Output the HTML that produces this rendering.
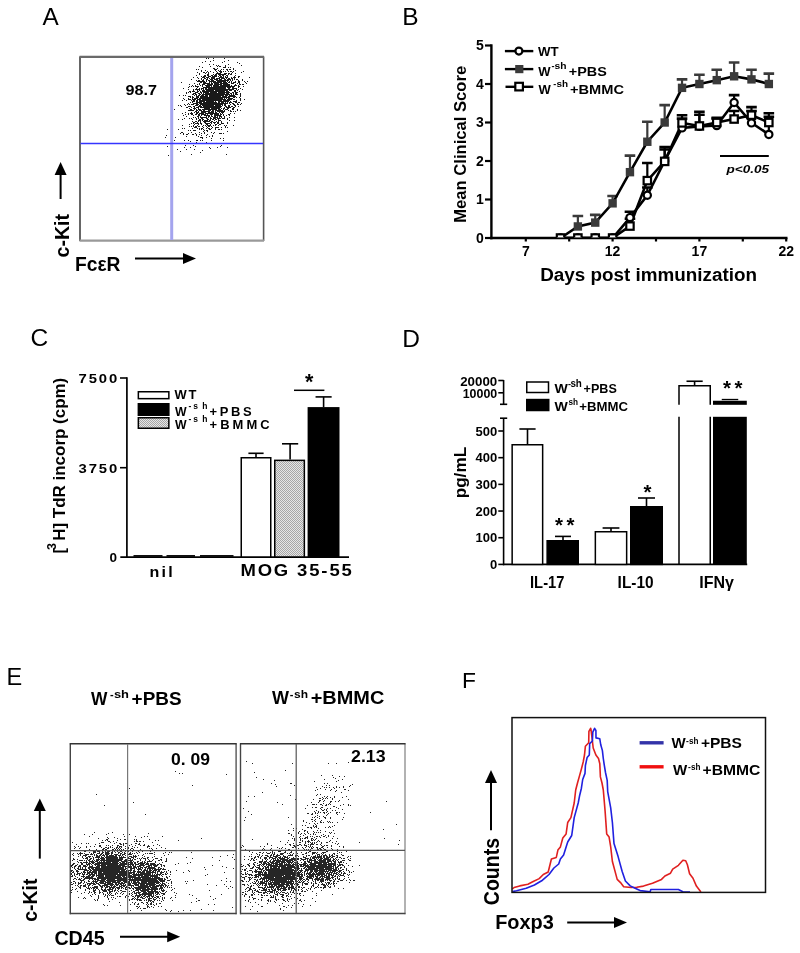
<!DOCTYPE html>
<html><head><meta charset="utf-8"><style>
html,body{margin:0;padding:0;background:#fff;width:800px;height:953px;overflow:hidden}
svg{display:block;will-change:transform}
text{font-family:"Liberation Sans",sans-serif;font-weight:bold}
</style></head><body>
<svg width="800" height="953" viewBox="0 0 800 953">
<rect width="800" height="953" fill="#fff"/>
<text x="42.60" y="25.30" font-size="24.3" style="font-weight:normal" >A</text>
<path d="M230 57.5h1M206 58.5h1m1 0h1m4 0h1m10 0h1M213 60.5h1m14 0h1M205 61.5h1m4 0h1m13 0h1M202 62.5h1m19 0h1m14 0h1M239 63.5h1M209 64.5h1m3 0h1m14 0h1M216 65.5h1m1 0h1m6 0h1m15 0h1M199 66.5h1m10 0h1m6 0h1m1 0h2m4 0h1M202 67.5h1m20 0h3m2 0h1m1 0h1M213 68.5h2m2 0h1m15 0h1M196 69.5h1m1 0h1m15 0h3m4 0h1m1 0h1m2 0h2m1 0h2m2 0h1M201 70.5h1m3 0h1m9 0h1m2 0h1m1 0h1m6 0h1m7 0h1M201 71.5h1m5 0h1m2 0h1m5 0h1m2 0h3m1 0h1m1 0h1m2 0h1m1 0h2m1 0h1m9 0h1M197 72.5h1m5 0h2m1 0h1m1 0h1m4 0h1m3 0h1m2 0h2m10 0h1m8 0h1M199 73.5h1m5 0h1m2 0h1m7 0h5m3 0h3m1 0h2m1 0h1m3 0h1M199 74.5h1m7 0h2m4 0h1m1 0h2m1 0h8m2 0h1m1 0h2M196 75.5h1m7 0h2m1 0h2m2 0h2m1 0h3m2 0h2m1 0h2m2 0h2m7 0h1M201 76.5h1m1 0h3m2 0h3m1 0h5m1 0h1m1 0h2m1 0h1m1 0h1m1 0h1m6 0h1m3 0h2M193 77.5h1m3 0h1m4 0h3m1 0h3m2 0h4m4 0h5m1 0h3m3 0h1m1 0h3m2 0h1m10 0h1M198 78.5h1m2 0h1m2 0h2m1 0h1m1 0h1m1 0h4m1 0h4m1 0h4m1 0h1m1 0h2m1 0h2m1 0h1M191 79.5h1m9 0h1m1 0h1m2 0h2m2 0h3m1 0h4m1 0h3m2 0h2m1 0h4m1 0h1m1 0h1m1 0h2m4 0h1M196 80.5h1m1 0h2m2 0h2m2 0h1m1 0h2m1 0h3m2 0h13m1 0h1m1 0h1m5 0h1m3 0h1M197 81.5h8m1 0h1m2 0h7m1 0h9m1 0h1m1 0h1m1 0h1m3 0h1m2 0h2m4 0h1m2 0h1M181 82.5h1m18 0h2m1 0h3m3 0h1m1 0h1m1 0h9m1 0h4m1 0h2m1 0h1m1 0h3m2 0h2m5 0h1M194 83.5h1m4 0h1m3 0h7m1 0h2m1 0h5m1 0h8m3 0h3m3 0h1m1 0h1m6 0h1M189 84.5h1m7 0h1m1 0h1m2 0h3m2 0h6m1 0h8m1 0h7m5 0h1m3 0h2m1 0h2M192 85.5h1m2 0h1m4 0h1m1 0h1m2 0h7m1 0h6m1 0h10m1 0h1m2 0h3m1 0h1M189 86.5h1m1 0h1m1 0h1m1 0h4m3 0h1m3 0h4m1 0h1m1 0h22m3 0h2m3 0h1M188 87.5h1m8 0h1m5 0h23m1 0h4m1 0h2m4 0h1M183 88.5h1m12 0h1m2 0h1m1 0h3m1 0h2m1 0h18m2 0h2m2 0h5m3 0h1M188 89.5h1m4 0h1m1 0h5m1 0h1m1 0h1m1 0h29m2 0h1m1 0h1m3 0h1M193 90.5h1m3 0h1m1 0h1m2 0h3m1 0h8m1 0h13m1 0h3m2 0h2m1 0h1M189 91.5h2m1 0h3m2 0h2m1 0h1m1 0h23m1 0h3m5 0h2m3 0h1M186 92.5h1m1 0h1m1 0h1m4 0h3m2 0h2m1 0h6m1 0h7m1 0h12m2 0h2m1 0h3M186 93.5h1m6 0h3m2 0h2m1 0h1m1 0h1m1 0h20m1 0h3m1 0h2m1 0h1m1 0h2m3 0h1M192 94.5h2m1 0h2m2 0h2m1 0h28m1 0h1m1 0h1m1 0h3m2 0h1M179 95.5h1m3 0h1m1 0h1m8 0h1m1 0h1m1 0h2m1 0h3m1 0h3m1 0h15m1 0h3m1 0h6m5 0h1M188 96.5h3m1 0h1m3 0h3m1 0h8m1 0h12m1 0h5m1 0h8m4 0h1M190 97.5h1m1 0h2m2 0h3m1 0h30m3 0h2m1 0h1m2 0h1M183 98.5h1m4 0h1m3 0h1m1 0h4m1 0h24m1 0h1m1 0h1m1 0h5m7 0h1M184 99.5h1m3 0h3m1 0h4m1 0h4m1 0h24m1 0h5m1 0h2m5 0h1m3 0h1M182 100.5h1m3 0h1m4 0h1m1 0h2m1 0h2m1 0h23m1 0h7m6 0h1m3 0h1M192 101.5h3m1 0h2m1 0h6m1 0h8m1 0h1m2 0h11m1 0h1m2 0h4M190 102.5h1m1 0h1m3 0h6m1 0h14m1 0h2m1 0h3m1 0h1m1 0h1m1 0h3m3 0h2m1 0h2M188 103.5h1m4 0h5m1 0h29m1 0h1m2 0h2m3 0h1m3 0h1M184 104.5h1m2 0h1m1 0h1m1 0h3m2 0h3m1 0h23m1 0h2m4 0h1m2 0h2m2 0h2m1 0h1M178 105.5h1m1 0h1m4 0h1m9 0h3m1 0h2m1 0h12m1 0h6m1 0h1m1 0h2m2 0h2m4 0h2M181 106.5h1m6 0h3m2 0h2m3 0h4m1 0h19m3 0h2m1 0h2m1 0h2m2 0h1m2 0h1M186 107.5h2m3 0h1m2 0h1m1 0h3m1 0h21m3 0h1m1 0h5m2 0h2M189 108.5h1m3 0h3m2 0h1m5 0h6m1 0h9m1 0h1m1 0h2m2 0h2m3 0h2M174 109.5h1m15 0h2m2 0h1m1 0h1m1 0h3m1 0h15m1 0h3m2 0h1m1 0h3m4 0h2m3 0h1M188 110.5h6m2 0h2m1 0h3m1 0h2m3 0h3m1 0h2m1 0h8m1 0h1m3 0h1m1 0h1m6 0h1m2 0h1M195 111.5h2m1 0h1m2 0h9m1 0h3m1 0h1m1 0h8m5 0h2m1 0h1m1 0h1M185 112.5h1m5 0h1m2 0h1m1 0h3m2 0h5m2 0h6m1 0h2m2 0h1m1 0h3M182 113.5h1m5 0h1m1 0h3m3 0h2m1 0h5m1 0h14m1 0h1m1 0h1m7 0h1m3 0h1M185 114.5h1m2 0h1m2 0h2m2 0h2m1 0h2m1 0h5m1 0h1m2 0h3m1 0h5m1 0h2m1 0h1m4 0h2M183 115.5h1m9 0h1m4 0h2m1 0h1m2 0h6m1 0h1m2 0h7m2 0h1m2 0h1m2 0h1M186 116.5h1m10 0h2m1 0h1m5 0h1m1 0h2m1 0h2m1 0h2m1 0h1m1 0h3m2 0h1M193 117.5h1m1 0h1m2 0h1m1 0h7m1 0h1m1 0h1m2 0h5m1 0h1m1 0h1m2 0h1m4 0h1m4 0h1M184 118.5h1m4 0h1m1 0h1m4 0h1m1 0h1m2 0h2m3 0h2m2 0h2m1 0h3m1 0h4m1 0h3m2 0h1M178 119.5h1m3 0h1m9 0h1m3 0h1m2 0h2m1 0h2m3 0h2m1 0h1m1 0h2m1 0h2m1 0h1m8 0h1M198 120.5h3m1 0h1m1 0h4m1 0h2m3 0h1m3 0h3m8 0h1m4 0h1M192 121.5h1m2 0h2m1 0h1m1 0h1m2 0h7m1 0h2m3 0h1m1 0h1m2 0h1M193 122.5h2m2 0h1m2 0h1m3 0h2m4 0h2m1 0h3m1 0h2m2 0h1m5 0h1M191 123.5h1m1 0h1m1 0h4m1 0h2m3 0h5m1 0h1m2 0h1m2 0h2m2 0h3m3 0h1M189 124.5h1m4 0h1m3 0h1m2 0h1m4 0h2m2 0h1m4 0h2m2 0h2M182 125.5h1m10 0h1m3 0h1m5 0h1m1 0h1m1 0h4m2 0h1m1 0h1m2 0h1m5 0h1m1 0h1m6 0h1M189 126.5h1m1 0h1m1 0h1m1 0h2m1 0h2m2 0h1m3 0h1m1 0h2m1 0h1m13 0h1M194 127.5h3m6 0h1m3 0h1m4 0h1m2 0h4m2 0h1m3 0h1m1 0h1M182 128.5h1m1 0h1m7 0h1m4 0h1m1 0h1m1 0h2m3 0h1m1 0h2m1 0h1m3 0h1M167 129.5h1m10 0h1m20 0h1m1 0h1m1 0h1m5 0h2m4 0h1m2 0h2m1 0h1M188 130.5h1m1 0h1m2 0h3m8 0h1m1 0h2M203 131.5h1m3 0h1m19 0h1M181 132.5h2m8 0h1m7 0h1m4 0h1m6 0h1m2 0h1M180 133.5h1m2 0h1m4 0h1m6 0h1m5 0h1m2 0h1m8 0h1m5 0h3m1 0h1M183 134.5h1m2 0h2m4 0h2m2 0h1m2 0h1m7 0h1M166 135.5h1m29 0h1m4 0h1m4 0h1m5 0h1M186 136.5h1m11 0h1m10 0h1m2 0h1M165 137.5h1m9 0h1m24 0h3m3 0h1M202 138.5h1m8 0h1m8 0h1m2 0h1M174 140.5h1m9 0h1m3 0h1m7 0h2m2 0h1m1 0h1m8 0h1m11 0h1M190 141.5h1M196 142.5h1m9 0h1M192 143.5h1M185 145.5h1m7 0h1m27 0h1M167 146.5h1m27 0h1m24 0h1M184 147.5h1m5 0h1m18 0h1m7 0h1m9 0h1M210 148.5h1M177 149.5h1m8 0h1m7 0h1M202 150.5h1M180 151.5h1M200 152.5h1M171 154.5h1m19 0h1m34 0h1M168 155.5h1" stroke="#000" stroke-width="1" fill="none" stroke-opacity="0.9" shape-rendering="crispEdges"/>
<line x1="80.00" y1="56.50" x2="80.00" y2="241.00" stroke="#555" stroke-width="1.8" />
<line x1="263.60" y1="56.50" x2="263.60" y2="241.00" stroke="#555" stroke-width="1.6" />
<line x1="79.50" y1="57.00" x2="264.00" y2="57.00" stroke="#6a6a6a" stroke-width="2.0" />
<line x1="79.50" y1="55.50" x2="264.00" y2="55.50" stroke="#d8d8d8" stroke-width="1" />
<line x1="79.50" y1="240.60" x2="264.00" y2="240.60" stroke="#999" stroke-width="2.4" />
<line x1="171.70" y1="58.00" x2="171.70" y2="240.00" stroke="#a4a4ee" stroke-width="3" />
<line x1="80.50" y1="143.50" x2="263.00" y2="143.50" stroke="#3535ff" stroke-width="1.7" />
<text x="125.40" y="95.00" font-size="15" textLength="31.5" lengthAdjust="spacingAndGlyphs" >98.7</text>
<text transform="translate(69.40,257.50) rotate(-90)" x="0" y="0" font-size="20" textLength="43.5" lengthAdjust="spacingAndGlyphs" >c-Kit</text>
<line x1="60.60" y1="199.00" x2="60.60" y2="174.00" stroke="#000" stroke-width="2" />
<polygon points="60.60,162.00 54.60,175.00 66.60,175.00" fill="#000"/>
<text x="75.00" y="271.00" font-size="20" textLength="45.5" lengthAdjust="spacingAndGlyphs" >FcεR</text>
<line x1="135.00" y1="258.60" x2="184.00" y2="258.60" stroke="#000" stroke-width="2" />
<polygon points="196.00,258.60 183.00,253.10 183.00,264.10" fill="#000"/>
<text x="402.30" y="25.20" font-size="24.5" style="font-weight:normal" >B</text>
<line x1="491.40" y1="44.30" x2="491.40" y2="239.30" stroke="#000" stroke-width="2.4" />
<line x1="490.20" y1="238.00" x2="787.50" y2="238.00" stroke="#000" stroke-width="2.5" />
<line x1="485.00" y1="238.00" x2="491.40" y2="238.00" stroke="#000" stroke-width="2.2" />
<text x="483.90" y="242.90" font-size="14" text-anchor="end" >0</text>
<line x1="485.00" y1="199.50" x2="491.40" y2="199.50" stroke="#000" stroke-width="2.2" />
<text x="483.90" y="204.40" font-size="14" text-anchor="end" >1</text>
<line x1="485.00" y1="161.00" x2="491.40" y2="161.00" stroke="#000" stroke-width="2.2" />
<text x="483.90" y="165.90" font-size="14" text-anchor="end" >2</text>
<line x1="485.00" y1="122.50" x2="491.40" y2="122.50" stroke="#000" stroke-width="2.2" />
<text x="483.90" y="127.40" font-size="14" text-anchor="end" >3</text>
<line x1="485.00" y1="84.00" x2="491.40" y2="84.00" stroke="#000" stroke-width="2.2" />
<text x="483.90" y="88.90" font-size="14" text-anchor="end" >4</text>
<line x1="485.00" y1="45.50" x2="491.40" y2="45.50" stroke="#000" stroke-width="2.2" />
<text x="483.90" y="50.40" font-size="14" text-anchor="end" >5</text>
<line x1="525.80" y1="238.00" x2="525.80" y2="241.50" stroke="#000" stroke-width="2.2" />
<line x1="569.20" y1="238.00" x2="569.20" y2="241.50" stroke="#000" stroke-width="2.2" />
<line x1="612.60" y1="238.00" x2="612.60" y2="241.50" stroke="#000" stroke-width="2.2" />
<line x1="656.00" y1="238.00" x2="656.00" y2="241.50" stroke="#000" stroke-width="2.2" />
<line x1="699.40" y1="238.00" x2="699.40" y2="241.50" stroke="#000" stroke-width="2.2" />
<line x1="742.80" y1="238.00" x2="742.80" y2="241.50" stroke="#000" stroke-width="2.2" />
<line x1="786.20" y1="238.00" x2="786.20" y2="241.50" stroke="#000" stroke-width="2.2" />
<text x="525.80" y="256.30" font-size="14" text-anchor="middle" >7</text>
<text x="612.60" y="256.30" font-size="14" text-anchor="middle" >12</text>
<text x="699.40" y="256.30" font-size="14" text-anchor="middle" >17</text>
<text x="786.20" y="256.30" font-size="14" text-anchor="middle" >22</text>
<text x="540.20" y="281.40" font-size="18.8" textLength="216.8" lengthAdjust="spacingAndGlyphs" >Days post immunization</text>
<text transform="translate(465.60,144.30) rotate(-90)" x="0" y="0" font-size="16.7" textLength="157" lengthAdjust="spacingAndGlyphs" text-anchor="middle" >Mean Clinical Score</text>
<defs><clipPath id="bclip"><rect x="492.5" y="30" width="300" height="207.2"/></clipPath></defs><g clip-path="url(#bclip)">
<line x1="577.88" y1="226.45" x2="577.88" y2="216.06" stroke="#3a3a3a" stroke-width="2.2" />
<line x1="572.58" y1="216.06" x2="583.18" y2="216.06" stroke="#3a3a3a" stroke-width="2.6" />
<line x1="595.24" y1="222.60" x2="595.24" y2="214.90" stroke="#3a3a3a" stroke-width="2.2" />
<line x1="589.94" y1="214.90" x2="600.54" y2="214.90" stroke="#3a3a3a" stroke-width="2.6" />
<line x1="612.60" y1="203.35" x2="612.60" y2="196.03" stroke="#3a3a3a" stroke-width="2.2" />
<line x1="607.30" y1="196.03" x2="617.90" y2="196.03" stroke="#3a3a3a" stroke-width="2.6" />
<line x1="629.96" y1="217.59" x2="629.96" y2="211.82" stroke="#000" stroke-width="2.2" />
<line x1="624.66" y1="211.82" x2="635.26" y2="211.82" stroke="#000" stroke-width="2.6" />
<line x1="629.96" y1="226.06" x2="629.96" y2="218.75" stroke="#000" stroke-width="2.2" />
<line x1="624.66" y1="218.75" x2="635.26" y2="218.75" stroke="#000" stroke-width="2.6" />
<line x1="629.96" y1="172.17" x2="629.96" y2="155.61" stroke="#3a3a3a" stroke-width="2.2" />
<line x1="624.66" y1="155.61" x2="635.26" y2="155.61" stroke="#3a3a3a" stroke-width="2.6" />
<line x1="647.32" y1="195.26" x2="647.32" y2="187.56" stroke="#000" stroke-width="2.2" />
<line x1="642.02" y1="187.56" x2="652.62" y2="187.56" stroke="#000" stroke-width="2.6" />
<line x1="647.32" y1="180.63" x2="647.32" y2="162.93" stroke="#000" stroke-width="2.2" />
<line x1="642.02" y1="162.93" x2="652.62" y2="162.93" stroke="#000" stroke-width="2.6" />
<line x1="647.32" y1="141.75" x2="647.32" y2="121.73" stroke="#3a3a3a" stroke-width="2.2" />
<line x1="642.02" y1="121.73" x2="652.62" y2="121.73" stroke="#3a3a3a" stroke-width="2.6" />
<line x1="664.68" y1="161.00" x2="664.68" y2="149.45" stroke="#000" stroke-width="2.2" />
<line x1="659.38" y1="149.45" x2="669.98" y2="149.45" stroke="#000" stroke-width="2.6" />
<line x1="664.68" y1="161.38" x2="664.68" y2="147.14" stroke="#000" stroke-width="2.2" />
<line x1="659.38" y1="147.14" x2="669.98" y2="147.14" stroke="#000" stroke-width="2.6" />
<line x1="664.68" y1="122.50" x2="664.68" y2="105.17" stroke="#3a3a3a" stroke-width="2.2" />
<line x1="659.38" y1="105.17" x2="669.98" y2="105.17" stroke="#3a3a3a" stroke-width="2.6" />
<line x1="682.04" y1="127.89" x2="682.04" y2="118.65" stroke="#000" stroke-width="2.2" />
<line x1="676.74" y1="118.65" x2="687.34" y2="118.65" stroke="#000" stroke-width="2.6" />
<line x1="682.04" y1="122.88" x2="682.04" y2="115.19" stroke="#000" stroke-width="2.2" />
<line x1="676.74" y1="115.19" x2="687.34" y2="115.19" stroke="#000" stroke-width="2.6" />
<line x1="682.04" y1="87.85" x2="682.04" y2="79.38" stroke="#3a3a3a" stroke-width="2.2" />
<line x1="676.74" y1="79.38" x2="687.34" y2="79.38" stroke="#3a3a3a" stroke-width="2.6" />
<line x1="699.40" y1="126.35" x2="699.40" y2="114.80" stroke="#000" stroke-width="2.2" />
<line x1="694.10" y1="114.80" x2="704.70" y2="114.80" stroke="#000" stroke-width="2.6" />
<line x1="699.40" y1="125.96" x2="699.40" y2="111.72" stroke="#000" stroke-width="2.2" />
<line x1="694.10" y1="111.72" x2="704.70" y2="111.72" stroke="#000" stroke-width="2.6" />
<line x1="699.40" y1="84.00" x2="699.40" y2="74.76" stroke="#3a3a3a" stroke-width="2.2" />
<line x1="694.10" y1="74.76" x2="704.70" y2="74.76" stroke="#3a3a3a" stroke-width="2.6" />
<line x1="716.76" y1="125.58" x2="716.76" y2="118.65" stroke="#000" stroke-width="2.2" />
<line x1="711.46" y1="118.65" x2="722.06" y2="118.65" stroke="#000" stroke-width="2.6" />
<line x1="716.76" y1="122.50" x2="716.76" y2="117.88" stroke="#000" stroke-width="2.2" />
<line x1="711.46" y1="117.88" x2="722.06" y2="117.88" stroke="#000" stroke-width="2.6" />
<line x1="716.76" y1="80.15" x2="716.76" y2="69.75" stroke="#3a3a3a" stroke-width="2.2" />
<line x1="711.46" y1="69.75" x2="722.06" y2="69.75" stroke="#3a3a3a" stroke-width="2.6" />
<line x1="734.12" y1="102.48" x2="734.12" y2="95.16" stroke="#000" stroke-width="2.2" />
<line x1="728.82" y1="95.16" x2="739.42" y2="95.16" stroke="#000" stroke-width="2.6" />
<line x1="734.12" y1="119.04" x2="734.12" y2="110.95" stroke="#000" stroke-width="2.2" />
<line x1="728.82" y1="110.95" x2="739.42" y2="110.95" stroke="#000" stroke-width="2.6" />
<line x1="734.12" y1="76.30" x2="734.12" y2="62.44" stroke="#3a3a3a" stroke-width="2.2" />
<line x1="728.82" y1="62.44" x2="739.42" y2="62.44" stroke="#3a3a3a" stroke-width="2.6" />
<line x1="751.48" y1="122.88" x2="751.48" y2="110.95" stroke="#000" stroke-width="2.2" />
<line x1="746.18" y1="110.95" x2="756.78" y2="110.95" stroke="#000" stroke-width="2.6" />
<line x1="751.48" y1="115.19" x2="751.48" y2="107.10" stroke="#000" stroke-width="2.2" />
<line x1="746.18" y1="107.10" x2="756.78" y2="107.10" stroke="#000" stroke-width="2.6" />
<line x1="751.48" y1="79.38" x2="751.48" y2="69.75" stroke="#3a3a3a" stroke-width="2.2" />
<line x1="746.18" y1="69.75" x2="756.78" y2="69.75" stroke="#3a3a3a" stroke-width="2.6" />
<line x1="768.84" y1="134.44" x2="768.84" y2="116.73" stroke="#000" stroke-width="2.2" />
<line x1="763.54" y1="116.73" x2="774.14" y2="116.73" stroke="#000" stroke-width="2.6" />
<line x1="768.84" y1="122.50" x2="768.84" y2="113.26" stroke="#000" stroke-width="2.2" />
<line x1="763.54" y1="113.26" x2="774.14" y2="113.26" stroke="#000" stroke-width="2.6" />
<line x1="768.84" y1="84.00" x2="768.84" y2="73.61" stroke="#3a3a3a" stroke-width="2.2" />
<line x1="763.54" y1="73.61" x2="774.14" y2="73.61" stroke="#3a3a3a" stroke-width="2.6" />
<polyline fill="none" stroke="#000" stroke-width="2.6" points="560.52,238.00 577.88,238.00 595.24,238.00 612.60,238.00 629.96,217.59 647.32,195.26 664.68,161.00 682.04,127.89 699.40,126.35 716.76,125.58 734.12,102.48 751.48,122.88 768.84,134.44"/>
<polyline fill="none" stroke="#000" stroke-width="2.6" points="560.52,238.00 577.88,238.00 595.24,238.00 612.60,238.00 629.96,226.06 647.32,180.63 664.68,161.38 682.04,122.88 699.40,125.96 716.76,122.50 734.12,119.04 751.48,115.19 768.84,122.50"/>
<polyline fill="none" stroke="#000" stroke-width="2.6" points="560.52,238.00 577.88,226.45 595.24,222.60 612.60,203.35 629.96,172.17 647.32,141.75 664.68,122.50 682.04,87.85 699.40,84.00 716.76,80.15 734.12,76.30 751.48,79.38 768.84,84.00"/>
<circle cx="560.52" cy="238.00" r="3.6" fill="#fff" stroke="#000" stroke-width="2.2"/>
<circle cx="577.88" cy="238.00" r="3.6" fill="#fff" stroke="#000" stroke-width="2.2"/>
<circle cx="595.24" cy="238.00" r="3.6" fill="#fff" stroke="#000" stroke-width="2.2"/>
<circle cx="612.60" cy="238.00" r="3.6" fill="#fff" stroke="#000" stroke-width="2.2"/>
<circle cx="629.96" cy="217.59" r="3.6" fill="#fff" stroke="#000" stroke-width="2.2"/>
<circle cx="647.32" cy="195.26" r="3.6" fill="#fff" stroke="#000" stroke-width="2.2"/>
<circle cx="664.68" cy="161.00" r="3.6" fill="#fff" stroke="#000" stroke-width="2.2"/>
<circle cx="682.04" cy="127.89" r="3.6" fill="#fff" stroke="#000" stroke-width="2.2"/>
<circle cx="699.40" cy="126.35" r="3.6" fill="#fff" stroke="#000" stroke-width="2.2"/>
<circle cx="716.76" cy="125.58" r="3.6" fill="#fff" stroke="#000" stroke-width="2.2"/>
<circle cx="734.12" cy="102.48" r="3.6" fill="#fff" stroke="#000" stroke-width="2.2"/>
<circle cx="751.48" cy="122.88" r="3.6" fill="#fff" stroke="#000" stroke-width="2.2"/>
<circle cx="768.84" cy="134.44" r="3.6" fill="#fff" stroke="#000" stroke-width="2.2"/>
<rect x="556.82" y="234.30" width="7.40" height="7.40" fill="#fff" stroke="#000" stroke-width="2.2" />
<rect x="574.18" y="234.30" width="7.40" height="7.40" fill="#fff" stroke="#000" stroke-width="2.2" />
<rect x="591.54" y="234.30" width="7.40" height="7.40" fill="#fff" stroke="#000" stroke-width="2.2" />
<rect x="608.90" y="234.30" width="7.40" height="7.40" fill="#fff" stroke="#000" stroke-width="2.2" />
<rect x="626.26" y="222.37" width="7.40" height="7.40" fill="#fff" stroke="#000" stroke-width="2.2" />
<rect x="643.62" y="176.94" width="7.40" height="7.40" fill="#fff" stroke="#000" stroke-width="2.2" />
<rect x="660.98" y="157.69" width="7.40" height="7.40" fill="#fff" stroke="#000" stroke-width="2.2" />
<rect x="678.34" y="119.18" width="7.40" height="7.40" fill="#fff" stroke="#000" stroke-width="2.2" />
<rect x="695.70" y="122.26" width="7.40" height="7.40" fill="#fff" stroke="#000" stroke-width="2.2" />
<rect x="713.06" y="118.80" width="7.40" height="7.40" fill="#fff" stroke="#000" stroke-width="2.2" />
<rect x="730.42" y="115.34" width="7.40" height="7.40" fill="#fff" stroke="#000" stroke-width="2.2" />
<rect x="747.78" y="111.48" width="7.40" height="7.40" fill="#fff" stroke="#000" stroke-width="2.2" />
<rect x="765.14" y="118.80" width="7.40" height="7.40" fill="#fff" stroke="#000" stroke-width="2.2" />
<rect x="573.68" y="222.25" width="8.40" height="8.40" fill="#3a3a3a" />
<rect x="591.04" y="218.40" width="8.40" height="8.40" fill="#3a3a3a" />
<rect x="608.40" y="199.15" width="8.40" height="8.40" fill="#3a3a3a" />
<rect x="625.76" y="167.97" width="8.40" height="8.40" fill="#3a3a3a" />
<rect x="643.12" y="137.55" width="8.40" height="8.40" fill="#3a3a3a" />
<rect x="660.48" y="118.30" width="8.40" height="8.40" fill="#3a3a3a" />
<rect x="677.84" y="83.65" width="8.40" height="8.40" fill="#3a3a3a" />
<rect x="695.20" y="79.80" width="8.40" height="8.40" fill="#3a3a3a" />
<rect x="712.56" y="75.95" width="8.40" height="8.40" fill="#3a3a3a" />
<rect x="729.92" y="72.10" width="8.40" height="8.40" fill="#3a3a3a" />
<rect x="747.28" y="75.18" width="8.40" height="8.40" fill="#3a3a3a" />
<rect x="764.64" y="79.80" width="8.40" height="8.40" fill="#3a3a3a" />
</g>
<line x1="504.90" y1="51.10" x2="533.30" y2="51.10" stroke="#000" stroke-width="2.4" />
<circle cx="518.9" cy="51.1" r="3.5" fill="#fff" stroke="#000" stroke-width="2.2"/>
<text x="538.00" y="55.60" font-size="13" textLength="20.6" lengthAdjust="spacingAndGlyphs" >WT</text>
<line x1="504.90" y1="69.10" x2="533.30" y2="69.10" stroke="#000" stroke-width="2.4" />
<rect x="515.20" y="65.00" width="8.20" height="8.20" fill="#3a3a3a" />
<line x1="505.50" y1="86.80" x2="533.30" y2="86.80" stroke="#000" stroke-width="2.4" />
<rect x="515.30" y="82.80" width="7.60" height="7.60" fill="#fff" stroke="#000" stroke-width="2.2" />
<text x="538.30" y="75.80" font-size="13" >W</text>
<text x="551.40" y="69.20" font-size="9" >-</text>
<text x="554.60" y="69.20" font-size="9" textLength="12" lengthAdjust="spacingAndGlyphs" >sh</text>
<text x="568.80" y="75.80" font-size="13" textLength="38" lengthAdjust="spacingAndGlyphs" >+PBS</text>
<text x="538.50" y="93.60" font-size="13" >W</text>
<text x="553.20" y="87.00" font-size="9" >-</text>
<text x="556.40" y="87.00" font-size="9" textLength="11.6" lengthAdjust="spacingAndGlyphs" >sh</text>
<text x="570.00" y="93.60" font-size="13" textLength="54" lengthAdjust="spacingAndGlyphs" >+BMMC</text>
<line x1="720.00" y1="156.00" x2="768.80" y2="156.00" stroke="#000" stroke-width="2.2" />
<text x="726.50" y="173.20" font-size="11.8" style="font-style:italic" textLength="42.5" lengthAdjust="spacingAndGlyphs" >p&lt;0.05</text>
<text x="30.60" y="346.40" font-size="24.5" style="font-weight:normal" >C</text>
<defs><pattern id="hp" width="2" height="2" patternUnits="userSpaceOnUse"><rect width="2" height="2" fill="#e6e6e6"/><rect x="0" y="0" width="1" height="1" fill="#a6a6a6"/><rect x="1" y="1" width="1" height="1" fill="#a6a6a6"/></pattern></defs>
<line x1="126.90" y1="377.30" x2="126.90" y2="557.60" stroke="#000" stroke-width="1.7" />
<line x1="120.30" y1="557.10" x2="349.00" y2="557.10" stroke="#000" stroke-width="1.7" />
<line x1="120.00" y1="378.00" x2="126.90" y2="378.00" stroke="#000" stroke-width="1.6" />
<text transform="translate(78.60,382.90) scale(1.1,1)" x="0.00 9.19 18.39 27.58" y="0" font-size="13.5">7500</text>
<line x1="120.00" y1="467.70" x2="126.90" y2="467.70" stroke="#000" stroke-width="1.6" />
<text transform="translate(78.60,472.60) scale(1.1,1)" x="0.00 9.19 18.39 27.58" y="0" font-size="13.5">3750</text>
<text x="117.00" y="562.10" font-size="13.5" text-anchor="end" >0</text>
<line x1="133.50" y1="556.00" x2="162.50" y2="556.00" stroke="#111" stroke-width="2.0" />
<line x1="166.50" y1="556.00" x2="195.00" y2="556.00" stroke="#111" stroke-width="2.0" />
<line x1="200.00" y1="556.00" x2="233.50" y2="556.00" stroke="#111" stroke-width="2.0" />
<line x1="256.00" y1="457.00" x2="256.00" y2="453.30" stroke="#000" stroke-width="1.6" />
<line x1="248.40" y1="453.30" x2="263.60" y2="453.30" stroke="#000" stroke-width="1.6" />
<line x1="290.10" y1="459.60" x2="290.10" y2="443.80" stroke="#000" stroke-width="1.6" />
<line x1="282.00" y1="443.80" x2="298.20" y2="443.80" stroke="#000" stroke-width="1.6" />
<line x1="323.60" y1="407.10" x2="323.60" y2="396.90" stroke="#000" stroke-width="1.6" />
<line x1="315.55" y1="396.90" x2="331.65" y2="396.90" stroke="#000" stroke-width="1.6" />
<rect x="241.25" y="457.75" width="29.50" height="99.25" fill="#fff" stroke="#000" stroke-width="1.5" />
<rect x="274.75" y="460.35" width="29.60" height="96.65" fill="url(#hp)" stroke="#000" stroke-width="1.5" />
<rect x="308.35" y="407.85" width="30.40" height="149.15" fill="#000" stroke="#000" stroke-width="1.5" />
<line x1="294.00" y1="390.30" x2="324.40" y2="390.30" stroke="#000" stroke-width="1.5" />
<text x="309.20" y="388.80" font-size="21.5" text-anchor="middle" >*</text>
<text transform="translate(149.60,576.90) scale(1.05,1)" x="0.00 11.37 17.65" y="0" font-size="15.3">nil</text>
<text transform="translate(240.40,576.40) scale(1.1,1)" x="0.00 15.68 30.44 45.19 51.55 62.58 73.61 80.90 91.93" y="0" font-size="16.8">MOG 35-55</text>
<rect x="138.35" y="391.75" width="30.50" height="6.90" fill="#fff" stroke="#000" stroke-width="1.5" />
<rect x="137.60" y="403.00" width="32.00" height="13.00" fill="#000" />
<rect x="138.35" y="417.75" width="30.50" height="10.50" fill="url(#hp)" stroke="#000" stroke-width="1.5" />
<text transform="translate(174.50,399.00) scale(1.08,1)" x="0.00 13.04" y="0" font-size="12">WT</text>
<text x="175.00" y="415.60" font-size="12" textLength="11.6" lengthAdjust="spacingAndGlyphs" >W</text>
<text x="188.60" y="409.40" font-size="8.5" >-</text>
<text transform="translate(193.20,409.40) scale(1.0,1)" x="0.00 9.01" y="0" font-size="8.5">sh</text>
<text transform="translate(209.50,415.60) scale(1.08,1)" x="0.00 9.47 19.94 31.07" y="0" font-size="12">+PBS</text>
<text x="175.00" y="428.60" font-size="12" textLength="11.6" lengthAdjust="spacingAndGlyphs" >W</text>
<text x="188.60" y="422.40" font-size="8.5" >-</text>
<text transform="translate(193.20,422.40) scale(1.0,1)" x="0.00 9.01" y="0" font-size="8.5">sh</text>
<text transform="translate(209.50,428.60) scale(1.08,1)" x="0.00 9.86 21.38 34.23 47.07" y="0" font-size="12">+BMMC</text>
<g transform="translate(64.7,553.5) rotate(-90)"><text x="0" y="0" font-size="16.5">[</text><text x="3.6" y="-8.6" font-size="12.5">3</text><text x="12.75" y="0" font-size="16.5" textLength="163" lengthAdjust="spacingAndGlyphs">H] TdR incorp (cpm)</text></g>
<text x="402.30" y="346.50" font-size="24.5" style="font-weight:normal" >D</text>
<line x1="503.60" y1="380.00" x2="503.60" y2="404.50" stroke="#000" stroke-width="1.6" />
<line x1="500.00" y1="404.30" x2="507.20" y2="404.30" stroke="#000" stroke-width="1.6" />
<line x1="503.60" y1="418.00" x2="503.60" y2="565.20" stroke="#000" stroke-width="1.6" />
<line x1="500.00" y1="418.20" x2="507.20" y2="418.20" stroke="#000" stroke-width="1.6" />
<line x1="503.00" y1="564.40" x2="747.20" y2="564.40" stroke="#000" stroke-width="1.6" />
<line x1="498.30" y1="380.50" x2="503.60" y2="380.50" stroke="#000" stroke-width="1.6" />
<text x="497.20" y="385.90" font-size="13" textLength="37" lengthAdjust="spacingAndGlyphs" text-anchor="end" >20000</text>
<line x1="498.30" y1="392.80" x2="503.60" y2="392.80" stroke="#000" stroke-width="1.6" />
<text x="497.20" y="397.70" font-size="13" textLength="34.5" lengthAdjust="spacingAndGlyphs" text-anchor="end" >10000</text>
<line x1="498.30" y1="564.40" x2="503.60" y2="564.40" stroke="#000" stroke-width="1.6" />
<text x="497.20" y="569.10" font-size="13" text-anchor="end" >0</text>
<line x1="498.30" y1="537.72" x2="503.60" y2="537.72" stroke="#000" stroke-width="1.6" />
<text x="497.20" y="542.42" font-size="13" text-anchor="end" >100</text>
<line x1="498.30" y1="511.04" x2="503.60" y2="511.04" stroke="#000" stroke-width="1.6" />
<text x="497.20" y="515.74" font-size="13" text-anchor="end" >200</text>
<line x1="498.30" y1="484.36" x2="503.60" y2="484.36" stroke="#000" stroke-width="1.6" />
<text x="497.20" y="489.06" font-size="13" text-anchor="end" >300</text>
<line x1="498.30" y1="457.68" x2="503.60" y2="457.68" stroke="#000" stroke-width="1.6" />
<text x="497.20" y="462.38" font-size="13" text-anchor="end" >400</text>
<line x1="498.30" y1="431.00" x2="503.60" y2="431.00" stroke="#000" stroke-width="1.6" />
<text x="497.20" y="435.70" font-size="13" text-anchor="end" >500</text>
<line x1="527.50" y1="444.00" x2="527.50" y2="429.00" stroke="#000" stroke-width="1.6" />
<line x1="519.40" y1="429.00" x2="535.60" y2="429.00" stroke="#000" stroke-width="1.6" />
<rect x="512.15" y="444.75" width="30.50" height="119.65" fill="#fff" stroke="#000" stroke-width="1.5" />
<line x1="563.00" y1="540.00" x2="563.00" y2="536.40" stroke="#000" stroke-width="1.6" />
<line x1="555.00" y1="536.40" x2="571.00" y2="536.40" stroke="#000" stroke-width="1.6" />
<rect x="547.15" y="540.75" width="31.10" height="23.65" fill="#000" stroke="#000" stroke-width="1.5" />
<line x1="611.00" y1="531.00" x2="611.00" y2="528.00" stroke="#000" stroke-width="1.6" />
<line x1="602.60" y1="528.00" x2="619.40" y2="528.00" stroke="#000" stroke-width="1.6" />
<rect x="595.35" y="531.75" width="31.30" height="32.65" fill="#fff" stroke="#000" stroke-width="1.5" />
<line x1="646.50" y1="506.00" x2="646.50" y2="498.00" stroke="#000" stroke-width="1.6" />
<line x1="638.00" y1="498.00" x2="655.00" y2="498.00" stroke="#000" stroke-width="1.6" />
<rect x="630.75" y="506.75" width="31.50" height="57.65" fill="#000" stroke="#000" stroke-width="1.5" />
<line x1="694.60" y1="385.00" x2="694.60" y2="381.25" stroke="#000" stroke-width="1.6" />
<line x1="686.50" y1="381.25" x2="702.70" y2="381.25" stroke="#000" stroke-width="1.6" />
<path d="M679 404.8V385.75H710.25V404.8" fill="#fff" stroke="#000" stroke-width="1.5"/>
<rect x="713.00" y="400.75" width="33.80" height="4.05" fill="#000" />
<line x1="721.75" y1="399.50" x2="738.25" y2="399.50" stroke="#000" stroke-width="1.3" />
<path d="M679 416.8V564.4M710.25 416.8V564.4" stroke="#000" stroke-width="1.5"/>
<rect x="713.00" y="416.80" width="33.80" height="147.60" fill="#000" />
<text x="559.00" y="532.00" font-size="20.5" text-anchor="middle" >*</text>
<text x="570.40" y="532.00" font-size="20.5" text-anchor="middle" >*</text>
<text x="647.60" y="499.10" font-size="20.5" text-anchor="middle" >*</text>
<text x="727.10" y="395.40" font-size="20.5" text-anchor="middle" >*</text>
<text x="738.60" y="395.40" font-size="20.5" text-anchor="middle" >*</text>
<rect x="526.75" y="382.00" width="21.75" height="10.50" fill="#fff" stroke="#000" stroke-width="1.5" />
<rect x="526.00" y="398.80" width="23.50" height="12.45" fill="#000" />
<text x="554.50" y="393.25" font-size="13" textLength="13.3" lengthAdjust="spacingAndGlyphs" >W</text>
<text x="568.00" y="387.20" font-size="9" >-</text>
<text x="570.40" y="387.20" font-size="10" textLength="11.5" lengthAdjust="spacingAndGlyphs" >sh</text>
<text x="583.60" y="393.25" font-size="13" textLength="33.2" lengthAdjust="spacingAndGlyphs" >+PBS</text>
<text x="554.50" y="410.80" font-size="13" textLength="13.3" lengthAdjust="spacingAndGlyphs" >W</text>
<text x="568.50" y="404.90" font-size="9" textLength="9.6" lengthAdjust="spacingAndGlyphs" >sh</text>
<text x="579.30" y="410.80" font-size="13" textLength="48.7" lengthAdjust="spacingAndGlyphs" >+BMMC</text>
<text transform="translate(466.00,472.60) rotate(-90)" x="0" y="0" font-size="16.5" textLength="51.5" lengthAdjust="spacingAndGlyphs" text-anchor="middle" >pg/mL</text>
<text x="530.00" y="588.40" font-size="16.5" textLength="34.5" lengthAdjust="spacingAndGlyphs" >IL-17</text>
<text x="617.60" y="588.40" font-size="16.5" textLength="36" lengthAdjust="spacingAndGlyphs" >IL-10</text>
<text x="699.30" y="588.40" font-size="16.5" textLength="34.7" lengthAdjust="spacingAndGlyphs" >IFNγ</text>
<text x="6.40" y="685.00" font-size="23.5" style="font-weight:normal" >E</text>
<text x="90.90" y="704.60" font-size="18" textLength="16.4" lengthAdjust="spacingAndGlyphs" >W</text>
<text x="109.90" y="698.30" font-size="11" >-</text>
<text x="113.90" y="698.30" font-size="11" textLength="15.1" lengthAdjust="spacingAndGlyphs" >sh</text>
<text x="131.60" y="704.60" font-size="18" textLength="49.9" lengthAdjust="spacingAndGlyphs" >+PBS</text>
<text x="271.90" y="704.20" font-size="18" textLength="17" lengthAdjust="spacingAndGlyphs" >W</text>
<text x="289.75" y="698.30" font-size="11" >-</text>
<text x="294.00" y="698.30" font-size="11" textLength="14" lengthAdjust="spacingAndGlyphs" >sh</text>
<text x="310.75" y="704.20" font-size="18" textLength="73.5" lengthAdjust="spacingAndGlyphs" >+BMMC</text>
<path d="M175 771.5h1M179 773.5h1m2 0h1M226 774.5h1M192 785.5h1M129 788.5h1M96 794.5h1M133 802.5h1M104 805.5h1M145 814.5h1M94 832.5h1m17 0h1M108 833.5h1m39 0h1M84 834.5h1m7 0h1m13 0h1m16 0h1m5 0h1M89 836.5h1m34 0h1m10 0h1m8 0h1m2 0h1m14 0h1M107 837.5h1m6 0h1m26 0h1M98 838.5h1m9 0h1m8 0h1m83 0h1M106 839.5h2m12 0h1m3 0h2m8 0h1m1 0h1m12 0h1M102 840.5h1m2 0h1m1 0h1m9 0h1m9 0h1m8 0h1m18 0h1m2 0h1m19 0h1M108 841.5h2m3 0h1m20 0h1m1 0h2m1 0h2m2 0h1M72 842.5h1m28 0h3m6 0h1m5 0h1m35 0h1M81 843.5h1m4 0h1m1 0h1m10 0h1m14 0h1m4 0h2m2 0h1m1 0h3m7 0h2m2 0h1M76 844.5h1m18 0h1m24 0h2m1 0h1m7 0h1m6 0h2m4 0h1m12 0h1M99 845.5h2m5 0h1m1 0h1m3 0h1m4 0h2m4 0h1m5 0h1m5 0h1m4 0h1m2 0h2m3 0h1m4 0h1m5 0h1M74 846.5h1m3 0h1m7 0h1m3 0h1m3 0h1m4 0h2m9 0h1m6 0h1m1 0h3m3 0h1m6 0h1m14 0h3M75 847.5h1m4 0h1m5 0h1m14 0h1m3 0h2m1 0h1m1 0h1m1 0h1m3 0h2m1 0h1m1 0h1m6 0h1m5 0h1m2 0h1m9 0h1m13 0h1M74 848.5h1m4 0h1m23 0h2m2 0h2m5 0h1m1 0h1m1 0h1m1 0h1m4 0h1m2 0h1m2 0h2m16 0h1m1 0h1m4 0h1m8 0h1M89 849.5h1m6 0h1m5 0h2m1 0h2m5 0h2m1 0h1m1 0h1m1 0h1m1 0h1m1 0h1m6 0h1m2 0h1m6 0h1m11 0h1M72 850.5h1m15 0h1m2 0h3m3 0h1m4 0h1m2 0h1m1 0h1m5 0h2m1 0h1m1 0h3m4 0h1m4 0h1m3 0h1m2 0h1m9 0h1m11 0h1m4 0h1M84 851.5h2m7 0h3m1 0h3m2 0h1m2 0h1m1 0h3m2 0h1m1 0h1m2 0h1m2 0h2m3 0h1m2 0h1m3 0h1m5 0h1m3 0h1m7 0h1M80 852.5h1m8 0h1m3 0h3m3 0h1m2 0h2m1 0h4m2 0h2m2 0h1m2 0h2m2 0h1m1 0h1m5 0h1m5 0h1m2 0h1m14 0h1m10 0h1m3 0h1m1 0h1m19 0h1M73 853.5h1m3 0h1m1 0h4m1 0h1m6 0h1m1 0h1m3 0h3m1 0h2m2 0h5m1 0h2m5 0h1m1 0h2m2 0h2m1 0h1m1 0h2m1 0h1m1 0h1m2 0h1m7 0h1m1 0h1m1 0h4m10 0h1M72 854.5h1m5 0h1m1 0h1m4 0h4m1 0h3m1 0h1m1 0h1m3 0h2m1 0h1m1 0h4m2 0h1m2 0h4m2 0h1m1 0h3m2 0h5m11 0h1m10 0h1m13 0h1m64 0h1M73 855.5h1m6 0h1m2 0h4m7 0h1m1 0h2m1 0h2m1 0h3m1 0h2m1 0h5m1 0h2m1 0h3m1 0h1m2 0h1m1 0h1m5 0h1m1 0h1m2 0h1m3 0h1m21 0h1m62 0h1M78 856.5h1m3 0h1m2 0h1m2 0h3m1 0h1m3 0h4m1 0h1m2 0h1m1 0h11m2 0h1m1 0h1m1 0h1m3 0h1m1 0h3m1 0h4m7 0h1m9 0h1m65 0h1M82 857.5h1m3 0h2m1 0h1m3 0h1m1 0h5m1 0h3m1 0h13m1 0h7m2 0h1m2 0h3m1 0h1m6 0h1m4 0h2m3 0h1m8 0h1m24 0h1m25 0h1m19 0h1M73 858.5h1m9 0h1m1 0h3m2 0h2m1 0h1m4 0h1m1 0h5m1 0h12m1 0h4m4 0h4m2 0h1m3 0h1m1 0h1m1 0h1m1 0h3m1 0h1m7 0h3m8 0h1m25 0h1M73 859.5h2m2 0h1m9 0h1m1 0h2m2 0h1m2 0h4m1 0h4m1 0h17m2 0h2m3 0h1m1 0h1m1 0h2m4 0h1m4 0h1m2 0h1m4 0h1m6 0h2m4 0h1m67 0h1M72 860.5h1m6 0h4m1 0h1m1 0h1m1 0h2m2 0h1m1 0h1m1 0h3m1 0h22m2 0h9m7 0h1m4 0h1m3 0h1m2 0h1m5 0h2m1 0h1m4 0h1m52 0h1M70 861.5h1m6 0h1m8 0h1m2 0h5m1 0h3m1 0h1m1 0h1m1 0h2m1 0h13m2 0h7m2 0h2m1 0h1m3 0h2m3 0h1m1 0h1m2 0h5m3 0h1m9 0h2M78 862.5h1m1 0h2m1 0h5m1 0h1m1 0h4m2 0h14m1 0h6m1 0h2m1 0h3m1 0h7m1 0h2m1 0h1m2 0h3m1 0h2m1 0h1m7 0h1m6 0h1m27 0h1M73 863.5h2m6 0h2m3 0h1m1 0h3m1 0h2m1 0h24m1 0h9m1 0h3m1 0h2m2 0h7m1 0h3m1 0h5m4 0h1m18 0h1m8 0h1M72 864.5h2m3 0h1m3 0h2m3 0h4m1 0h1m2 0h6m1 0h17m1 0h15m1 0h4m1 0h4m1 0h4m1 0h6m1 0h2m1 0h2m13 0h1M71 865.5h2m2 0h2m2 0h2m2 0h3m1 0h1m1 0h1m2 0h1m2 0h1m1 0h9m1 0h18m3 0h1m1 0h1m1 0h2m1 0h1m3 0h6m3 0h4m1 0h5m3 0h1m1 0h2m47 0h1M71 866.5h1m2 0h2m2 0h3m2 0h4m2 0h4m3 0h4m1 0h20m1 0h10m1 0h3m1 0h4m2 0h1m2 0h4m1 0h1m2 0h3m4 0h1m2 0h1m57 0h1M72 867.5h1m1 0h1m3 0h1m1 0h1m1 0h1m2 0h1m2 0h12m1 0h23m1 0h1m1 0h5m1 0h4m1 0h1m1 0h3m1 0h3m1 0h7m3 0h2m44 0h1m21 0h1M74 868.5h1m2 0h2m1 0h1m1 0h1m2 0h1m2 0h2m1 0h3m1 0h29m1 0h3m2 0h5m1 0h1m1 0h3m1 0h1m2 0h1m1 0h9m2 0h1m1 0h2m1 0h1m69 0h1M75 869.5h1m2 0h9m2 0h2m1 0h34m1 0h1m2 0h2m2 0h1m2 0h5m2 0h2m1 0h1m1 0h2m1 0h1m1 0h7m1 0h4m39 0h1M71 870.5h2m3 0h2m6 0h5m1 0h2m1 0h27m1 0h4m1 0h6m1 0h2m3 0h1m2 0h1m1 0h5m1 0h3m1 0h4m1 0h2m8 0h1m7 0h1m11 0h1M71 871.5h1m1 0h1m2 0h3m4 0h2m2 0h1m1 0h2m1 0h5m1 0h31m1 0h1m2 0h3m1 0h4m1 0h3m1 0h5m1 0h2m1 0h1m1 0h3m1 0h1m2 0h1m1 0h1m3 0h1m18 0h1M72 872.5h2m3 0h1m3 0h1m1 0h3m1 0h10m1 0h4m1 0h32m2 0h8m1 0h10m1 0h1m2 0h4m2 0h1m3 0h1m12 0h1m40 0h1M71 873.5h1m2 0h1m2 0h4m1 0h1m1 0h1m2 0h3m1 0h2m1 0h3m1 0h20m1 0h13m1 0h2m1 0h1m1 0h1m1 0h11m1 0h1m2 0h1m1 0h1m2 0h2m3 0h1m1 0h1M71 874.5h1m2 0h1m1 0h2m1 0h1m2 0h3m1 0h2m1 0h6m1 0h1m1 0h32m2 0h19m1 0h1m1 0h1m1 0h5m1 0h2m1 0h2m3 0h1m36 0h1M70 875.5h1m1 0h1m1 0h1m4 0h1m3 0h1m4 0h3m1 0h3m1 0h8m1 0h11m1 0h15m1 0h10m1 0h14m1 0h1m1 0h1m43 0h1M71 876.5h2m2 0h1m5 0h4m1 0h4m1 0h3m2 0h1m1 0h6m1 0h16m1 0h3m1 0h10m2 0h2m1 0h8m1 0h8m4 0h1m3 0h1m2 0h1M77 877.5h1m5 0h1m1 0h8m4 0h25m1 0h28m1 0h1m1 0h6m6 0h2M74 878.5h2m3 0h1m1 0h1m2 0h12m1 0h31m1 0h2m1 0h1m1 0h7m1 0h21m1 0h1m2 0h1m58 0h1M73 879.5h1m2 0h1m1 0h3m2 0h2m4 0h1m2 0h1m1 0h5m2 0h5m1 0h8m2 0h40m1 0h5m1 0h2m4 0h1M80 880.5h4m4 0h1m4 0h1m1 0h1m1 0h8m1 0h22m1 0h29m1 0h6m2 0h3m23 0h1m27 0h1M73 881.5h2m6 0h1m2 0h1m3 0h2m2 0h6m2 0h6m1 0h9m1 0h4m2 0h7m1 0h1m1 0h3m1 0h2m2 0h18m1 0h5m6 0h1m13 0h1m1 0h1m38 0h1m3 0h1M71 882.5h1m3 0h1m2 0h1m1 0h2m2 0h1m1 0h1m4 0h1m1 0h1m1 0h2m2 0h5m1 0h6m1 0h8m1 0h2m1 0h6m1 0h1m1 0h7m1 0h6m1 0h12m2 0h1m3 0h1m4 0h1M73 883.5h1m1 0h1m2 0h3m2 0h1m3 0h8m1 0h3m1 0h6m1 0h6m2 0h2m1 0h7m3 0h3m1 0h5m1 0h17m1 0h3m1 0h1m1 0h3m3 0h1m2 0h1m14 0h1M71 884.5h2m5 0h1m6 0h1m1 0h1m1 0h2m2 0h3m2 0h2m4 0h10m1 0h4m1 0h2m1 0h1m1 0h1m1 0h4m3 0h5m1 0h5m1 0h10m3 0h1m1 0h2m1 0h2m41 0h1m16 0h1M75 885.5h1m1 0h1m2 0h2m1 0h3m2 0h2m2 0h1m6 0h2m1 0h6m2 0h3m1 0h1m1 0h2m1 0h1m1 0h5m1 0h7m1 0h4m1 0h8m1 0h6m1 0h8m1 0h2m1 0h1m2 0h1m44 0h1M78 886.5h1m1 0h1m2 0h3m2 0h1m5 0h4m2 0h3m1 0h1m1 0h4m1 0h1m1 0h3m3 0h3m1 0h2m1 0h2m3 0h1m1 0h1m4 0h13m1 0h7m1 0h2m1 0h1m1 0h1m1 0h1m58 0h1m3 0h1M72 887.5h1m6 0h2m5 0h1m1 0h1m1 0h1m1 0h6m3 0h2m2 0h3m1 0h6m1 0h4m1 0h2m2 0h5m1 0h1m2 0h15m1 0h7m3 0h3m1 0h1m2 0h1m1 0h1m1 0h1m60 0h1M76 888.5h1m3 0h1m6 0h3m1 0h1m1 0h2m1 0h2m3 0h1m3 0h1m3 0h2m1 0h2m1 0h1m1 0h3m1 0h1m1 0h1m1 0h1m1 0h1m1 0h2m1 0h2m1 0h11m1 0h3m1 0h7m1 0h4m11 0h1m53 0h1M72 889.5h1m2 0h1m9 0h1m3 0h1m3 0h1m1 0h1m2 0h1m2 0h2m1 0h2m1 0h6m2 0h1m2 0h1m6 0h2m6 0h1m2 0h5m1 0h16m1 0h1m1 0h1m1 0h1m8 0h1M71 890.5h1m13 0h1m7 0h3m3 0h1m2 0h5m1 0h2m2 0h1m1 0h2m1 0h1m2 0h2m9 0h1m3 0h4m1 0h9m2 0h2m1 0h2m5 0h4m6 0h1m37 0h1M77 891.5h1m11 0h1m3 0h2m4 0h1m3 0h4m2 0h4m1 0h1m3 0h1m3 0h4m1 0h1m1 0h1m3 0h2m3 0h1m2 0h5m1 0h11m1 0h1m2 0h2m2 0h1M71 892.5h1m12 0h1m4 0h1m1 0h1m2 0h2m3 0h2m1 0h1m4 0h1m1 0h2m5 0h1m4 0h1m5 0h1m4 0h1m1 0h1m1 0h5m2 0h4m1 0h6m1 0h4m1 0h1m4 0h1m8 0h1M81 893.5h1m6 0h1m5 0h1m4 0h1m3 0h1m3 0h1m1 0h1m1 0h1m3 0h1m1 0h1m2 0h1m2 0h1m5 0h1m1 0h1m2 0h3m1 0h2m2 0h12m1 0h1m1 0h2m2 0h4m11 0h1M92 894.5h1m2 0h1m7 0h1m1 0h1m2 0h1m1 0h1m4 0h1m6 0h1m6 0h1m2 0h1m3 0h1m2 0h13m1 0h1m2 0h2m1 0h1m3 0h2m24 0h1m31 0h1M90 895.5h1m7 0h1m6 0h1m1 0h1m1 0h1m1 0h3m12 0h2m3 0h1m3 0h6m1 0h1m1 0h2m2 0h4m1 0h1m1 0h1m6 0h1m12 0h1m16 0h1M91 896.5h1m6 0h1m5 0h1m2 0h1m9 0h1m1 0h2m4 0h1m2 0h1m3 0h2m1 0h1m1 0h3m1 0h1m1 0h2m1 0h4m1 0h3m2 0h3m1 0h1m49 0h1M78 897.5h1m5 0h1m13 0h1m8 0h1m3 0h1m1 0h1m11 0h1m8 0h1m2 0h2m1 0h3m2 0h1m1 0h1m1 0h1m2 0h1m1 0h2m1 0h2m3 0h1m1 0h1m6 0h1m3 0h1M83 898.5h1m1 0h1m12 0h1m9 0h1m6 0h1m16 0h2m1 0h1m1 0h1m4 0h3m3 0h4m1 0h1m2 0h1m2 0h1m2 0h1m1 0h1m5 0h1m25 0h1m18 0h1M94 899.5h1m2 0h1m10 0h1m3 0h1m16 0h1m1 0h2m1 0h1m1 0h5m5 0h1m1 0h2m3 0h3m6 0h1m50 0h1M95 900.5h1m1 0h1m29 0h1m1 0h1m7 0h1m1 0h3m2 0h1m1 0h1m1 0h4m2 0h1m2 0h1m1 0h1m3 0h1m8 0h1m25 0h2M109 901.5h1m38 0h1m1 0h1m1 0h2m7 0h1m34 0h1M119 902.5h1m12 0h1m2 0h1m5 0h2m3 0h2m3 0h1m1 0h1m37 0h1M134 903.5h1m3 0h1m4 0h1m3 0h1m2 0h2m4 0h1m2 0h2M103 904.5h1m26 0h1m3 0h1m2 0h2m7 0h1m1 0h1m1 0h2m1 0h1m2 0h1m51 0h1m5 0h1M104 905.5h1m2 0h1m12 0h1m26 0h1m6 0h1M136 906.5h2m1 0h1m7 0h2m2 0h1m6 0h1m2 0h1M138 907.5h1m8 0h1m1 0h1m3 0h1m78 0h1M137 908.5h1m2 0h1m2 0h3M165 909.5h1m35 0h1M130 910.5h1m10 0h1m24 0h1m4 0h1m11 0h1m6 0h1m22 0h1M170 911.5h1m7 0h1" stroke="#000" stroke-width="1" fill="none" stroke-opacity="0.85" shape-rendering="crispEdges"/>
<path d="M246 761.5h1M348 762.5h1M252 763.5h1m39 0h1m35 0h1m7 0h1M285 770.5h1M254 772.5h1M321 775.5h1m10 0h1M339 776.5h1m4 0h1M256 777.5h1m76 0h1M335 778.5h1M263 779.5h1m60 0h1m17 0h1M274 780.5h1m63 0h1M314 781.5h1m21 0h1M271 783.5h1m18 0h2m32 0h1m2 0h1M275 784.5h1m76 0h1M294 785.5h1m31 0h1m2 0h1m20 0h1M276 786.5h1m45 0h1m13 0h1m6 0h1m5 0h1M316 787.5h1m7 0h1m1 0h1m2 0h1m3 0h1m2 0h1m2 0h1m3 0h1M320 788.5h1m13 0h1M317 789.5h1m7 0h1m5 0h1m12 0h2M315 790.5h1m14 0h1m5 0h1m11 0h1M335 791.5h1M262 792.5h1m78 0h1M317 794.5h1m2 0h1M290 795.5h1m25 0h1M248 796.5h1m5 0h1m69 0h1m2 0h1m6 0h1m11 0h1M322 797.5h1m3 0h1m3 0h1m3 0h1m7 0h1M319 798.5h2m2 0h1m1 0h1m1 0h1m4 0h1M295 799.5h1m17 0h1m8 0h1m9 0h1m15 0h1M319 800.5h2m3 0h1m14 0h1M246 801.5h1m72 0h1m3 0h1m6 0h2m3 0h1m2 0h1m47 0h1M277 802.5h1m33 0h1m6 0h1m11 0h1M323 803.5h1m5 0h1M282 804.5h1m29 0h3m1 0h1m3 0h2m4 0h1m1 0h1m1 0h1m12 0h1m4 0h1M307 805.5h1m14 0h1m2 0h2m13 0h1m7 0h1m1 0h1M333 806.5h2M312 807.5h1m2 0h2m4 0h2m13 0h1M243 808.5h1m61 0h1m14 0h1m6 0h1m2 0h1m7 0h1M321 809.5h1m2 0h1m1 0h1m15 0h1M316 810.5h1m5 0h2m2 0h1m5 0h1m2 0h1M248 811.5h1m65 0h1m3 0h1m8 0h1M315 812.5h1m2 0h1m1 0h1m2 0h2m1 0h1m3 0h1m5 0h2m1 0h1m30 0h1M307 813.5h2m3 0h1m2 0h1m1 0h1m6 0h1m3 0h1m7 0h1m7 0h1M251 814.5h1m59 0h2m14 0h1m9 0h1M317 815.5h1m8 0h1M315 816.5h1m3 0h1m3 0h1M245 817.5h1m42 0h1m23 0h1m1 0h1m2 0h1m6 0h2m4 0h1m12 0h1M319 818.5h1m5 0h1m4 0h1M311 819.5h2m2 0h1m26 0h1M244 820.5h1m58 0h1m10 0h1m6 0h1M303 821.5h1m8 0h1m2 0h1m4 0h1m6 0h1m1 0h1M306 822.5h1m13 0h2m1 0h1m4 0h1m1 0h1m1 0h1m4 0h1M309 823.5h1m4 0h1m2 0h1M291 824.5h1m23 0h1m80 0h1M302 825.5h1m2 0h1m7 0h1m2 0h1m17 0h1M313 826.5h1m1 0h2m12 0h1m2 0h1M307 827.5h2m1 0h2m2 0h1m1 0h1m8 0h1m2 0h1m1 0h1M293 828.5h1m2 0h1m14 0h1m6 0h1M302 829.5h1m80 0h1M288 830.5h1m4 0h1m10 0h2m11 0h1m2 0h1m12 0h1M299 831.5h1m4 0h1m2 0h1m5 0h1m11 0h1M298 832.5h1m8 0h1m6 0h1m1 0h1m1 0h1m1 0h1m8 0h1m1 0h1M288 833.5h2m8 0h1m2 0h1m2 0h1m3 0h1m4 0h1m16 0h1m3 0h1M291 834.5h1m8 0h1m4 0h1m4 0h1m2 0h1m1 0h1m7 0h1M291 835.5h1m11 0h1m17 0h1m3 0h1m2 0h1M293 836.5h1m6 0h1m6 0h1m2 0h1m1 0h1m3 0h2m1 0h1m3 0h2m3 0h1m4 0h1M299 837.5h1m5 0h3m6 0h1m5 0h1m5 0h1M292 838.5h1m1 0h1m5 0h1m1 0h1m1 0h2m1 0h1m3 0h2m3 0h1m15 0h1m4 0h1m46 0h1M252 839.5h1m41 0h1m5 0h1m10 0h1m1 0h1m1 0h1M288 840.5h1m5 0h1m5 0h1m1 0h1m5 0h1m2 0h2m1 0h1m3 0h1m11 0h1m68 0h1M280 841.5h1m21 0h1m2 0h1m1 0h3m7 0h1m1 0h1m9 0h1m6 0h1M287 842.5h1m11 0h2m4 0h1m2 0h1m1 0h1m1 0h1m1 0h1m1 0h1m4 0h1m4 0h2m4 0h1m26 0h1M267 843.5h1m25 0h1m11 0h1m5 0h2m1 0h1m6 0h1m13 0h1m2 0h1M267 844.5h1m17 0h1m3 0h2m5 0h1m2 0h2m3 0h1m3 0h1m1 0h4m2 0h2m2 0h1m16 0h1m60 0h1M242 845.5h1m28 0h1m18 0h1m2 0h2m2 0h2m2 0h1m2 0h3m3 0h1m10 0h1m2 0h1m1 0h2m3 0h1M243 846.5h1m16 0h1m3 0h1m29 0h2m10 0h1m1 0h1m1 0h1m1 0h1m9 0h2m7 0h1m7 0h1m3 0h1M241 847.5h1m35 0h1m4 0h1m9 0h2m1 0h1m6 0h1m2 0h1m3 0h1m1 0h1m1 0h1m2 0h2m3 0h2m4 0h1m15 0h1M263 848.5h1m7 0h1m7 0h1m1 0h1m3 0h1m12 0h1m4 0h1m7 0h2m4 0h1m1 0h2m2 0h1m7 0h1M245 849.5h1m16 0h1m1 0h1m5 0h1m17 0h2m14 0h1m1 0h1m1 0h1m1 0h1m6 0h2m1 0h2m2 0h2m6 0h1m4 0h1M249 850.5h1m4 0h1m1 0h1m7 0h1m5 0h3m3 0h2m2 0h1m2 0h1m3 0h1m2 0h1m9 0h1m7 0h1m5 0h2m1 0h1m5 0h1m6 0h1m1 0h1m1 0h1M249 851.5h1m22 0h1m5 0h3m4 0h1m5 0h1m4 0h1m12 0h2m15 0h2m9 0h1m8 0h1M252 852.5h1m6 0h2m2 0h1m2 0h1m3 0h1m1 0h1m1 0h1m9 0h2m4 0h2m4 0h1m4 0h1m4 0h1m1 0h1m3 0h4m1 0h1m4 0h4m13 0h1m1 0h1M256 853.5h1m5 0h1m4 0h3m2 0h1m1 0h1m5 0h4m3 0h1m1 0h1m3 0h1m3 0h1m7 0h2m5 0h3m1 0h1m4 0h1m1 0h1m9 0h2m2 0h1M251 854.5h1m5 0h1m1 0h1m11 0h1m1 0h2m2 0h1m2 0h3m7 0h1m1 0h1m9 0h2m8 0h1m4 0h3m2 0h1m2 0h1m3 0h1m2 0h1m1 0h1m6 0h1M259 855.5h1m2 0h1m2 0h3m2 0h2m1 0h1m2 0h4m3 0h1m4 0h5m2 0h3m8 0h1m1 0h2m5 0h1m1 0h1m1 0h1m1 0h1m1 0h4m2 0h1m1 0h2m3 0h2m4 0h2M244 856.5h1m4 0h1m1 0h1m3 0h1m1 0h2m2 0h1m5 0h2m1 0h1m2 0h5m2 0h1m2 0h3m1 0h1m7 0h1m2 0h1m4 0h1m2 0h1m4 0h1m1 0h3m1 0h5m1 0h2m1 0h2m1 0h2m1 0h3m2 0h1m10 0h1m1 0h1M254 857.5h2m2 0h1m1 0h1m3 0h3m2 0h4m2 0h2m1 0h3m1 0h1m1 0h4m1 0h1m3 0h1m9 0h3m4 0h1m1 0h10m1 0h2m1 0h4m1 0h2m3 0h2m1 0h2m6 0h1M251 858.5h2m1 0h1m5 0h1m3 0h3m2 0h1m2 0h4m1 0h1m1 0h6m2 0h2m2 0h5m1 0h2m1 0h2m3 0h4m1 0h1m1 0h3m1 0h1m1 0h1m1 0h3m1 0h5m1 0h1m2 0h1m1 0h1m5 0h1m1 0h2m5 0h1M244 859.5h1m3 0h1m2 0h1m1 0h1m2 0h1m5 0h1m2 0h1m1 0h1m3 0h1m1 0h1m1 0h1m1 0h2m1 0h8m1 0h7m1 0h2m2 0h5m1 0h1m1 0h3m2 0h2m1 0h1m1 0h3m1 0h8m2 0h2m1 0h1m1 0h1m9 0h1M250 860.5h1m2 0h2m7 0h1m3 0h1m3 0h1m2 0h8m1 0h11m1 0h3m3 0h1m2 0h1m3 0h1m1 0h7m2 0h8m1 0h4m1 0h2m1 0h1m1 0h1m4 0h3m4 0h2M259 861.5h4m1 0h3m2 0h2m1 0h3m1 0h9m1 0h5m1 0h2m3 0h1m6 0h2m1 0h3m1 0h1m2 0h4m1 0h7m1 0h5m1 0h3m2 0h1m1 0h2M254 862.5h2m3 0h3m1 0h3m1 0h2m1 0h4m1 0h5m1 0h5m1 0h6m1 0h4m3 0h1m2 0h2m2 0h4m2 0h15m2 0h1m2 0h2m2 0h4m1 0h1M249 863.5h1m3 0h1m3 0h1m3 0h1m1 0h4m1 0h2m1 0h7m1 0h4m1 0h1m1 0h1m1 0h2m1 0h1m1 0h1m1 0h1m1 0h2m4 0h4m3 0h12m1 0h4m1 0h8m3 0h1m6 0h1M241 864.5h1m5 0h2m4 0h2m4 0h2m1 0h3m1 0h6m1 0h1m1 0h8m1 0h7m1 0h6m1 0h7m1 0h1m1 0h7m2 0h18m1 0h1m1 0h4M243 865.5h1m4 0h2m4 0h1m2 0h3m1 0h1m1 0h1m2 0h1m1 0h10m1 0h15m1 0h4m1 0h2m1 0h6m1 0h17m1 0h4m1 0h3m2 0h3m1 0h2m4 0h1m10 0h1M241 866.5h2m2 0h1m3 0h1m3 0h1m1 0h1m3 0h1m2 0h1m1 0h2m1 0h2m1 0h16m1 0h8m1 0h3m1 0h4m1 0h29m1 0h1m1 0h2m5 0h1m7 0h1M252 867.5h2m2 0h4m3 0h1m1 0h4m1 0h2m1 0h4m1 0h2m1 0h18m5 0h2m1 0h8m1 0h16m1 0h1m1 0h3m2 0h2m2 0h1M246 868.5h1m3 0h3m5 0h3m1 0h2m1 0h2m1 0h1m1 0h10m1 0h11m2 0h6m1 0h1m1 0h2m1 0h1m1 0h16m1 0h9m1 0h2m1 0h1m1 0h1m5 0h1M242 869.5h1m1 0h2m9 0h1m1 0h1m1 0h4m2 0h29m1 0h1m1 0h2m2 0h1m3 0h13m1 0h13m1 0h4m1 0h1m3 0h2m2 0h1M244 870.5h2m3 0h3m3 0h2m4 0h1m1 0h2m1 0h32m1 0h4m2 0h4m1 0h3m1 0h11m1 0h1m1 0h10m1 0h3m4 0h1m1 0h1M241 871.5h1m5 0h1m4 0h1m1 0h8m1 0h1m1 0h1m2 0h25m1 0h3m1 0h1m1 0h2m2 0h2m1 0h1m2 0h3m1 0h4m1 0h10m1 0h1m1 0h4m2 0h3m2 0h1m5 0h1m3 0h1M245 872.5h1m6 0h1m2 0h2m1 0h5m1 0h3m1 0h28m1 0h4m1 0h1m1 0h1m2 0h1m1 0h3m1 0h1m1 0h2m1 0h6m1 0h1m1 0h1m1 0h4m1 0h1m1 0h2m1 0h1m1 0h1m2 0h1m4 0h1m1 0h1M241 873.5h1m3 0h1m1 0h1m10 0h3m1 0h1m1 0h3m1 0h32m1 0h1m2 0h1m1 0h5m1 0h3m1 0h9m1 0h4m1 0h1m1 0h4m1 0h1m2 0h1m1 0h3M242 874.5h2m1 0h2m1 0h4m3 0h41m1 0h6m1 0h1m1 0h1m1 0h17m1 0h1m1 0h4m1 0h1m2 0h2m1 0h2m2 0h1m3 0h1m1 0h1M249 875.5h1m1 0h2m1 0h3m1 0h3m1 0h22m1 0h6m1 0h8m1 0h2m1 0h1m2 0h1m1 0h5m1 0h1m1 0h3m1 0h2m1 0h3m1 0h2m1 0h3m1 0h1m2 0h1m1 0h4m4 0h1M241 876.5h1m3 0h2m8 0h4m1 0h1m3 0h18m1 0h12m2 0h6m3 0h8m1 0h3m2 0h5m1 0h4m2 0h1m1 0h2m1 0h1m1 0h1m4 0h1M242 877.5h3m3 0h3m1 0h1m1 0h3m1 0h1m2 0h1m1 0h11m1 0h22m2 0h3m1 0h1m3 0h5m1 0h1m2 0h2m1 0h2m1 0h1m1 0h6m1 0h3m3 0h1m10 0h1M244 878.5h1m4 0h1m1 0h1m8 0h38m1 0h4m3 0h2m1 0h4m2 0h5m1 0h3m2 0h5m1 0h1m2 0h1m1 0h1m1 0h1m4 0h1M244 879.5h1m4 0h2m3 0h2m1 0h1m1 0h2m1 0h3m1 0h1m1 0h29m2 0h3m1 0h2m1 0h3m3 0h1m1 0h10m1 0h5m3 0h1m1 0h1m2 0h2m3 0h1m5 0h1M241 880.5h2m6 0h1m6 0h2m4 0h1m1 0h1m1 0h3m1 0h17m1 0h1m1 0h3m2 0h2m1 0h1m1 0h1m1 0h1m2 0h1m2 0h1m3 0h1m2 0h1m1 0h2m1 0h4m1 0h1m1 0h1m1 0h3m2 0h1m5 0h3m3 0h1m3 0h1m2 0h2M242 881.5h2m2 0h1m1 0h1m5 0h1m1 0h1m1 0h1m1 0h3m1 0h4m1 0h2m1 0h1m1 0h20m1 0h3m1 0h1m1 0h1m1 0h2m2 0h1m5 0h1m1 0h1m4 0h4m6 0h1m2 0h2m2 0h2M252 882.5h1m2 0h1m2 0h1m1 0h5m1 0h1m1 0h1m1 0h22m1 0h1m2 0h1m1 0h3m1 0h2m4 0h1m2 0h1m3 0h1m3 0h1m1 0h1m3 0h1m1 0h3m3 0h1m15 0h1M250 883.5h1m2 0h3m1 0h1m1 0h8m1 0h4m1 0h7m1 0h4m1 0h8m1 0h3m4 0h1m1 0h4m3 0h1m1 0h1m1 0h2m5 0h1m3 0h1m1 0h2m1 0h1m1 0h2m1 0h1M242 884.5h3m2 0h1m8 0h1m1 0h1m1 0h1m1 0h1m2 0h2m1 0h21m1 0h3m1 0h1m1 0h3m3 0h1m2 0h3m5 0h1m4 0h1m2 0h4m1 0h1m1 0h1m1 0h1m2 0h1M244 885.5h1m3 0h1m2 0h1m1 0h1m3 0h1m1 0h1m2 0h1m1 0h3m2 0h1m1 0h2m1 0h3m1 0h6m2 0h4m1 0h2m4 0h1m4 0h1m9 0h2m4 0h1m4 0h3m1 0h1m6 0h1M250 886.5h2m6 0h1m6 0h1m1 0h1m1 0h6m1 0h9m1 0h2m1 0h1m1 0h3m2 0h1m1 0h2m11 0h1m1 0h1m3 0h1m6 0h2m2 0h1m1 0h1m3 0h1M247 887.5h2m1 0h1m7 0h5m1 0h2m1 0h7m2 0h4m1 0h1m1 0h4m1 0h6m1 0h1m2 0h2m1 0h1m1 0h2m6 0h1m3 0h2m1 0h1m1 0h2m1 0h3m3 0h2M246 888.5h1m2 0h2m2 0h2m7 0h3m1 0h1m4 0h1m1 0h1m1 0h1m1 0h2m1 0h6m2 0h2m1 0h4m1 0h1m5 0h1m5 0h1m1 0h1m3 0h1m8 0h1m14 0h1m4 0h1M245 889.5h1m3 0h3m3 0h1m3 0h1m3 0h4m1 0h2m1 0h2m1 0h2m1 0h4m2 0h4m1 0h2m1 0h1m2 0h2m2 0h1m2 0h1m4 0h1m3 0h1M248 890.5h2m2 0h1m1 0h2m1 0h1m3 0h6m2 0h1m2 0h4m2 0h1m1 0h1m1 0h4m5 0h1m1 0h1m1 0h2m1 0h1m3 0h1m4 0h1m13 0h1M245 891.5h1m1 0h1m4 0h1m3 0h3m6 0h1m1 0h6m1 0h1m1 0h2m3 0h1m8 0h1m2 0h1m7 0h2m1 0h2m6 0h1M242 892.5h2m8 0h1m1 0h1m3 0h4m1 0h4m3 0h3m1 0h1m1 0h1m1 0h1m1 0h1m1 0h3m2 0h1m2 0h1m1 0h2M245 893.5h1m7 0h1m9 0h2m2 0h1m1 0h1m4 0h1m2 0h1m1 0h1m5 0h2m1 0h1m5 0h1m2 0h1m1 0h2m15 0h1M242 894.5h1m2 0h2m4 0h2m1 0h1m3 0h1m2 0h1m13 0h3m2 0h4m4 0h1m2 0h1m7 0h1m32 0h1M244 895.5h1m6 0h2m8 0h2m1 0h1m1 0h2m2 0h1m2 0h1m3 0h1m4 0h2m2 0h2m12 0h1m2 0h1m12 0h1M244 896.5h1m4 0h1m21 0h1m1 0h1m1 0h1m5 0h2m3 0h1m1 0h1m1 0h1M249 897.5h1m2 0h1m8 0h2m7 0h4m1 0h1m6 0h2m10 0h1M253 898.5h3m19 0h1m11 0h1m3 0h1m5 0h1m14 0h1M249 899.5h1m3 0h1m4 0h1m2 0h1m6 0h1m6 0h2m1 0h1m3 0h2m3 0h1m1 0h1m6 0h1m3 0h1M245 900.5h1m2 0h1m12 0h1m5 0h2m1 0h1m5 0h1m6 0h2m2 0h1m11 0h2m3 0h1M248 901.5h1m19 0h1m1 0h1m3 0h1m10 0h1m2 0h1m12 0h1m13 0h1M250 902.5h1m4 0h1m19 0h1M267 903.5h1m14 0h1m11 0h1m3 0h1M258 904.5h1m44 0h1M279 905.5h1m8 0h1m3 0h1m17 0h1M245 906.5h1m6 0h1m8 0h2m20 0h2m17 0h1M286 907.5h1m4 0h1M280 908.5h1M250 909.5h1m29 0h1M283 910.5h1M257 911.5h1" stroke="#000" stroke-width="1" fill="none" stroke-opacity="0.85" shape-rendering="crispEdges"/>
<line x1="70.30" y1="743.20" x2="70.30" y2="914.20" stroke="#444" stroke-width="1.4" />
<line x1="236.10" y1="743.20" x2="236.10" y2="914.20" stroke="#555" stroke-width="1.4" />
<line x1="69.80" y1="743.70" x2="236.60" y2="743.70" stroke="#333" stroke-width="1.6" />
<line x1="69.80" y1="913.50" x2="236.60" y2="913.50" stroke="#444" stroke-width="1.6" />
<line x1="127.60" y1="744.00" x2="127.60" y2="913.00" stroke="#777" stroke-width="1.2" />
<line x1="70.50" y1="850.60" x2="236.00" y2="850.60" stroke="#555" stroke-width="1.3" />
<line x1="240.50" y1="743.20" x2="240.50" y2="914.20" stroke="#444" stroke-width="1.4" />
<line x1="405.00" y1="743.20" x2="405.00" y2="914.20" stroke="#999" stroke-width="1.5" />
<line x1="240.00" y1="743.70" x2="405.50" y2="743.70" stroke="#333" stroke-width="1.6" />
<line x1="240.00" y1="913.50" x2="405.50" y2="913.50" stroke="#444" stroke-width="1.6" />
<line x1="296.20" y1="744.00" x2="296.20" y2="913.00" stroke="#555" stroke-width="1.2" />
<line x1="240.50" y1="850.40" x2="405.00" y2="850.40" stroke="#555" stroke-width="1.3" />
<text x="171.00" y="764.60" font-size="16.8" textLength="39" lengthAdjust="spacingAndGlyphs" >0. 09</text>
<text x="351.00" y="762.20" font-size="16.8" textLength="34.6" lengthAdjust="spacingAndGlyphs" >2.13</text>
<text transform="translate(37.20,921.80) rotate(-90)" x="0" y="0" font-size="21" textLength="43.2" lengthAdjust="spacingAndGlyphs" >c-Kit</text>
<line x1="39.80" y1="858.60" x2="39.80" y2="810.00" stroke="#000" stroke-width="2" />
<polygon points="39.80,798.50 33.80,811.00 45.80,811.00" fill="#000"/>
<text x="54.40" y="945.10" font-size="21" textLength="50.2" lengthAdjust="spacingAndGlyphs" >CD45</text>
<line x1="120.00" y1="936.70" x2="168.20" y2="936.70" stroke="#000" stroke-width="2" />
<polygon points="180.20,936.70 167.20,931.20 167.20,942.20" fill="#000"/>
<text x="462.10" y="688.10" font-size="22.8" style="font-weight:normal" >F</text>
<polyline fill="none" stroke="#e02020" stroke-width="1.6" stroke-linejoin="round" points="512.4,889.0 514.1,887.5 519.7,885.9 527.9,884.2 532.7,881.8 539.2,878.6 543.3,874.5 548.2,872.0 551.4,859.0 556.3,857.4 557.9,850.1 560.4,846.9 562.8,838.0 566.1,833.9 567.7,822.5 570.9,817.6 574.2,803.0 575.7,790.0 577.5,783.0 579.7,775.1 581.4,769.0 583.2,762.0 584.5,755.0 585.4,746.2 588.7,742.7 588.9,731.4 590.6,728.3 591.0,729.6 592.4,741.0 593.2,748.0 595.9,755.0 598.5,758.5 599.8,763.7 600.4,776.9 602.0,783.0 603.3,790.0 605.1,811.1 606.7,833.9 609.1,837.1 610.7,846.9 612.4,861.5 617.2,879.4 620.5,882.6 623.7,886.7 631.1,887.5 636.7,887.2 643.5,886.1 652.5,883.3 661.5,879.4 664.9,876.0 670.5,873.2 672.7,869.2 678.4,865.3 682.9,860.2 685.7,860.8 687.4,864.7 689.6,873.7 693.0,878.2 696.4,886.1 700.9,892.0"/>
<polyline fill="none" stroke="#2020e0" stroke-width="1.6" stroke-linejoin="round" points="512.4,891.6 516.5,890.7 526.2,888.3 534.4,885.0 542.5,880.2 549.0,874.5 553.9,868.0 558.7,864.0 560.4,859.0 563.6,855.0 567.7,842.0 571.7,835.5 574.2,817.6 578.2,803.0 579.7,795.2 581.4,788.2 582.7,779.5 585.0,773.4 585.4,765.5 587.1,757.6 589.3,755.0 589.7,743.6 592.4,741.0 592.8,732.2 594.6,728.3 595.9,730.5 596.0,737.9 599.8,738.8 600.7,744.5 602.4,750.6 603.3,758.5 604.2,764.6 605.5,772.5 607.2,780.4 607.7,791.7 610.7,807.9 612.4,822.5 614.0,843.6 618.1,856.6 622.1,871.2 625.4,881.0 630.2,885.9 635.1,888.3 640.1,890.6 650.2,891.7 650.8,889.5 678.4,889.5 682.9,891.7 690.0,892.0"/>
<rect x="512.00" y="717.60" width="253.50" height="174.80" fill="none" stroke="#111" stroke-width="1.5" />
<line x1="639.60" y1="742.80" x2="663.60" y2="742.80" stroke="#3333a8" stroke-width="3.4" />
<line x1="639.60" y1="766.80" x2="663.60" y2="766.80" stroke="#f01010" stroke-width="3.4" />
<text x="671.50" y="748.40" font-size="14.5" textLength="14.2" lengthAdjust="spacingAndGlyphs" >W</text>
<text x="686.00" y="743.50" font-size="8.5" >-</text>
<text x="689.00" y="743.50" font-size="8.5" textLength="9.5" lengthAdjust="spacingAndGlyphs" >sh</text>
<text x="700.90" y="748.40" font-size="14.5" textLength="41.1" lengthAdjust="spacingAndGlyphs" >+PBS</text>
<text x="672.90" y="774.60" font-size="14.5" textLength="14.2" lengthAdjust="spacingAndGlyphs" >W</text>
<text x="688.00" y="769.70" font-size="8.5" >-</text>
<text x="691.00" y="769.70" font-size="8.5" textLength="9.5" lengthAdjust="spacingAndGlyphs" >sh</text>
<text x="702.60" y="774.60" font-size="14.5" textLength="57.8" lengthAdjust="spacingAndGlyphs" >+BMMC</text>
<text transform="translate(499.20,905.20) rotate(-90)" x="0" y="0" font-size="21.5" textLength="67.2" lengthAdjust="spacingAndGlyphs" >Counts</text>
<line x1="491.00" y1="830.20" x2="491.00" y2="782.00" stroke="#000" stroke-width="2" />
<polygon points="491.00,770.00 485.00,783.00 497.00,783.00" fill="#000"/>
<text x="495.20" y="929.40" font-size="20" textLength="58.6" lengthAdjust="spacingAndGlyphs" >Foxp3</text>
<line x1="567.20" y1="922.50" x2="615.00" y2="922.50" stroke="#000" stroke-width="2" />
<polygon points="627.00,922.50 614.00,917.00 614.00,928.00" fill="#000"/>
</svg></body></html>
